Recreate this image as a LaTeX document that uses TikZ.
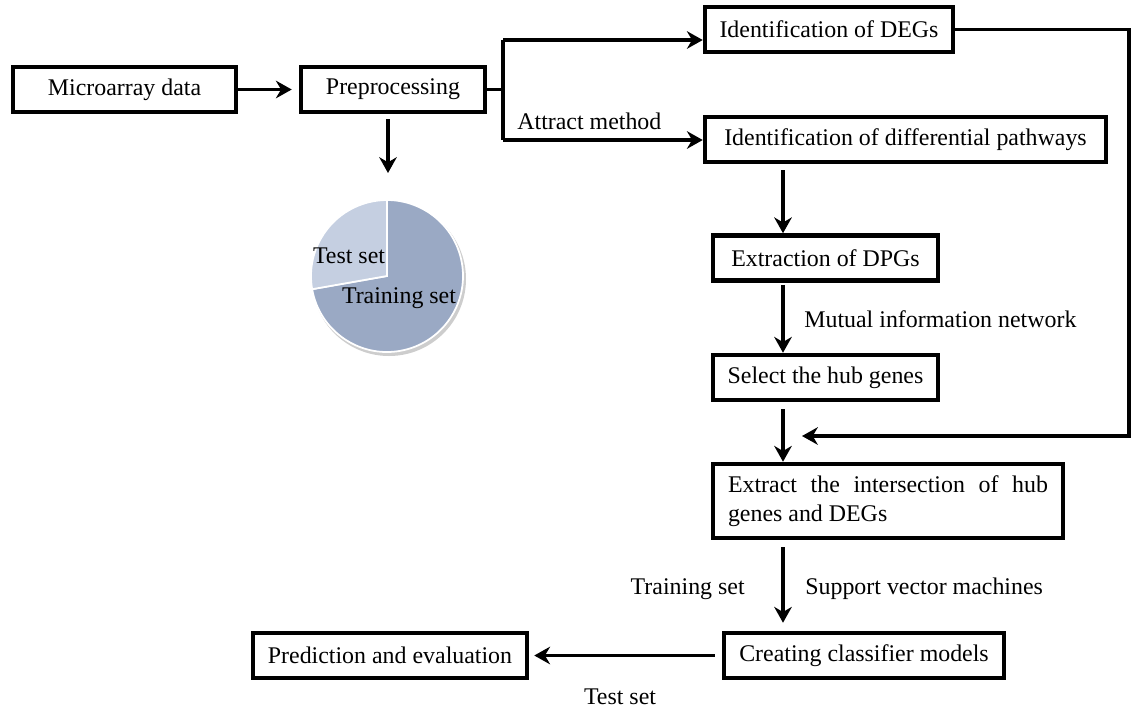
\documentclass[tikz,border=0pt]{standalone}
\usepackage{fontspec}
\setmainfont{Liberation Serif}
\usepackage{tikz}
\usetikzlibrary{arrows.meta,positioning,calc}
\usepackage{xcolor}
\definecolor{pietest}{RGB}{197,207,225}
\definecolor{pietrain}{RGB}{154,169,196}
\definecolor{pieshadow}{RGB}{205,205,205}
\tikzstyle{box} = [draw, line width=2.6pt, rectangle, minimum height=0.9cm, inner sep=0pt]
\tikzstyle{lbl} = [inner sep=0pt]
\tikzstyle{line} = [line width=1.9pt]
\tikzstyle{arrow} = [line width=1.9pt,-{Stealth[length=9pt,width=10pt]}]

\begin{document}
\begin{tikzpicture}[x=0.02cm, y=-0.02cm, font=\fontsize{13.6}{16.4}\selectfont]
    \useasboundingbox (0,0) rectangle (1133,708);

    % Boxes
    \node[box, minimum width=4.46cm] (micro) at (124.5,89.5) {Microarray data};
    \node[box, minimum width=3.68cm] (prep) at (393,89.5) {Preprocessing};
    \node[box, minimum width=4.96cm] (degs) at (829,29.5) {Identification of DEGs};
    \node[box, minimum width=8.02cm] (dpath) at (905.5,139.5) {Identification of differential pathways};
    \node[box, minimum width=4.5cm] (dpg) at (825.5,258) {Extraction of DPGs};
    \node[box, minimum width=4.5cm] (hub) at (825.5,377.5) {Select the hub genes};
    \node[box, text width=6.4cm, inner xsep=0.3cm, align=justify, minimum height=1.48cm] (inter) at (888,501)
        {Extract the intersection of hub \mbox{genes} and DEGs};
    \node[box, minimum width=5.6cm] (svm) at (864,655.5) {Creating classifier models};
    \node[box, minimum width=5.48cm] (pred) at (390,655.5) {Prediction and evaluation};

    % Helper points
    \coordinate (col) at (783,0);
    \coordinate (jtop) at (503,40);
    \coordinate (jbot) at (503,140);
    \coordinate (fbcorner) at (1129,436);
    \coordinate (fbend) at (802,436);
    \coordinate (pie) at (387,276);
    \coordinate (pietip) at (388,173);

    % Top row
    \draw[arrow, shorten >=0.14cm] (micro) -- (prep);
    \draw[line] (prep.east) -- (prep.east -| jtop);
    \draw[line] (jtop) -- (jbot);
    \draw[arrow] (jtop) -- (jtop -| degs.west);
    \draw[arrow] (jbot) -- (jbot -| dpath.west);
    \node[lbl, anchor=west] (attract) at (517,121) {Attract method};

    % Main column
    \draw[arrow, shorten <=0.12cm] (dpath.south -| col) -- (dpg.north -| col);
    \draw[arrow, shorten <=0.04cm] (dpg.south -| col) -- (hub.north -| col);
    \node[lbl, anchor=west] (mutual) at (804,319) {Mutual information network};
    \draw[arrow, shorten <=0.14cm] (hub.south -| col) -- (inter.north -| col);
    \draw[arrow, shorten <=0.14cm, shorten >=0.16cm] (inter.south -| col) -- (svm.north -| col);
    \node[lbl, anchor=east] (trainlbl) at (745,589) {Training set};
    \node[lbl, anchor=west] (svmlbl) at (805,589) {Support vector machines};

    % DEGs feedback
    \draw[arrow] (degs.east) -| (fbcorner) -- (fbend);

    % Bottom row
    \draw[arrow, shorten <=0.14cm, shorten >=0.1cm] (svm.west) -- (pred.east);
    \node[lbl] (testlbl) at (620,697) {Test set};

    % Data split
    \draw[arrow, shorten <=0.1cm] (prep.south -| pietip) -- (pietip);
    \fill[pieshadow] ($(pie)+(2,3)$) circle[radius=77];
    \filldraw[fill=pietrain, draw=white, line width=1pt] (pie) -- ++(-190:76)
        arc[start angle=-190, end angle=-450, radius=76] -- cycle;
    \filldraw[fill=pietest, draw=white, line width=1pt] (pie) -- ++(-90:76)
        arc[start angle=-90, end angle=-190, radius=76] -- cycle;
    \node[lbl] (testtxt) at (349,256) {Test set};
    \node[lbl] (traintxt) at (399,298) {Training set};
\end{tikzpicture}
\end{document}
